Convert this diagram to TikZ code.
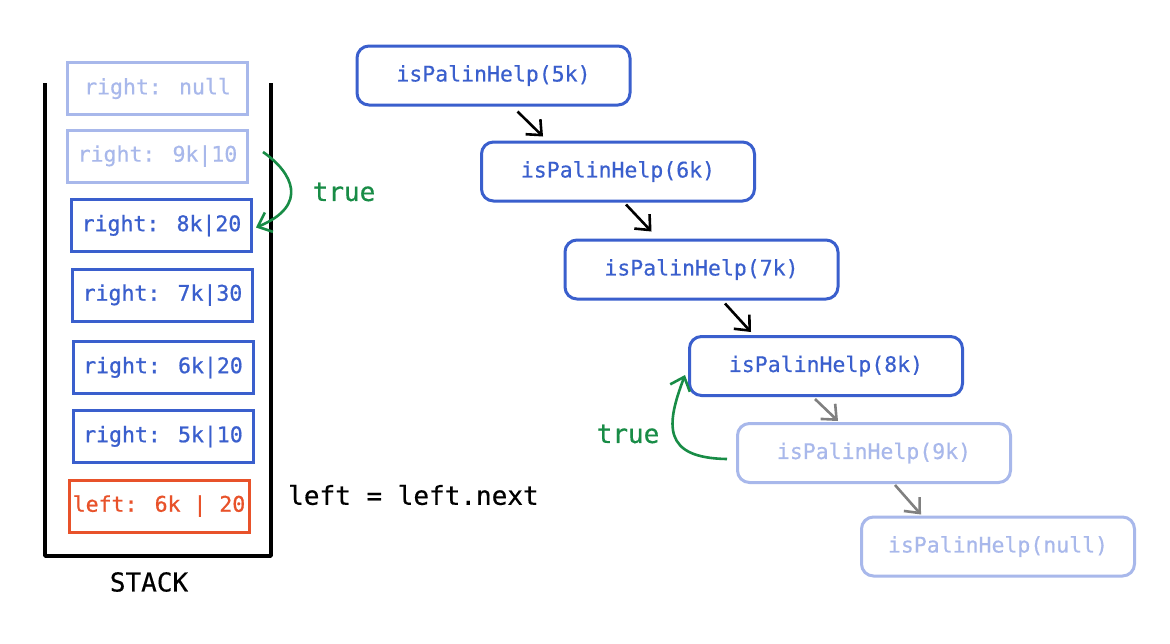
\documentclass[tikz,border=0pt]{standalone}
\usepackage{fontspec}
\setmonofont{DejaVu Sans Mono}
\newfontfamily\medmono{DejaVu Sans Mono}[FakeBold=0.8]
\newfontfamily\semimono{DejaVu Sans Mono}[FakeBold=0.4]
\usetikzlibrary{arrows.meta}
\definecolor{cblue}{RGB}{58,95,205}
\definecolor{lblue}{RGB}{168,184,235}
\definecolor{cred}{RGB}{232,82,42}
\definecolor{cgreen}{RGB}{24,140,70}
\definecolor{cgray}{RGB}{128,128,128}
\begin{document}
\begin{tikzpicture}[x=1pt,y=-1pt,
  sbox/.style={draw=cblue, line width=3pt, minimum width=180pt, minimum height=52pt, text=cblue, font=\medmono\fontsize{21.5}{21.5}\selectfont, inner sep=0pt},
  sboxl/.style={sbox, draw=lblue, text=lblue, font=\semimono\fontsize{21.5}{21.5}\selectfont},
  sboxr/.style={sbox, draw=cred, text=cred},
  call/.style={draw=cblue, line width=3pt, rounded corners=12pt, minimum width=273pt, minimum height=59pt, text=cblue, font=\semimono\fontsize{21.5}{21.5}\selectfont, inner sep=0pt},
  calll/.style={call, draw=lblue, text=lblue},
  arr/.style={line width=2.6pt, -{Straight Barb[length=12pt,width=21pt,line width=2.6pt]}},
  garr/.style={arr, draw=cgreen},
  grarr/.style={arr, draw=cgray},
  lbl/.style={font=\semimono\fontsize{26}{26}\selectfont, inner sep=0pt}
]
\useasboundingbox (0,0) rectangle (1170,643);
\fill[white] (0,0) rectangle (1170,643);

% stack container
\draw[line width=3.6pt, line join=round] (45,83) -- (45,556) -- (271,556) -- (271,83);
\node[lbl] (stack) at (149,582) {STACK};

% stack entries
\node[sboxl] (snull) at (157.5,88.5) {right: null};
\node[sboxl] (s9) at (157.5,156) {right: 9k|10};
\node[sbox] (s8) at (161.5,225.5) {right: 8k|20};
\node[sbox] (s7) at (162.5,295) {right: 7k|30};
\node[sbox] (s6) at (163,367.5) {right: 6k|20};
\node[sbox] (s5) at (163,436.5) {right: 5k|10};
\node[sboxr] (sl) at (159,506) {left: 6k | 20};

\node[lbl, anchor=west] (ln) at (288,495) {left = left.next};

% green arrow on stack
\node[lbl, text=cgreen] (t1) at (344,192) {true};
\draw[garr] ([shift={(14,-4)}]s9.east) .. controls (292,172) and (310,205) .. ([shift={(3,2)}]s8.east);

% call nodes
\node[call] (n5) at (493.5,75.5) {isPalinHelp(5k)};
\node[call] (n6) at (618,171.5) {isPalinHelp(6k)};
\node[call] (n7) at (701.5,269.5) {isPalinHelp(7k)};
\node[call] (n8) at (826,366) {isPalinHelp(8k)};
\node[calll] (n9) at (874,453) {isPalinHelp(9k)};
\node[calll] (nn) at (998,546.5) {isPalinHelp(null)};

\draw[arr] ([shift={(24,5)}]n5.south) -- ([shift={(-75,-4)}]n6.north);
\draw[arr] ([shift={(8,2)}]n6.south) -- ([shift={(-50,-7)}]n7.north);
\draw[arr] ([shift={(23.5,3)}]n7.south) -- ([shift={(-75,-3)}]n8.north);
\draw[grarr] ([shift={(-11,2)}]n8.south) -- ([shift={(-36,-1)}]n9.north);
\draw[grarr] ([shift={(21,1)}]n9.south) -- ([shift={(-77,-1)}]nn.north);

% green arrow back to 8k
\node[lbl, text=cgreen] (t2) at (628,434) {true};
\draw[garr] ([shift={(-9,6)}]n9.west) .. controls (662,458) and (666,425) .. ([shift={(-3,9)}]n8.west);
\end{tikzpicture}
\end{document}
